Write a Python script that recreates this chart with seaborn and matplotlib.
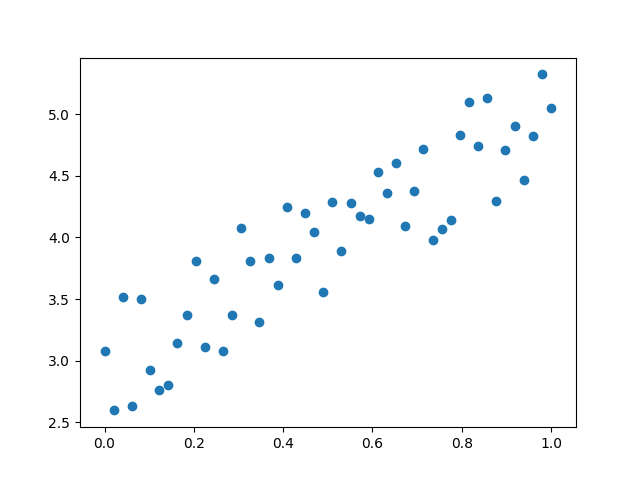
import numpy as np
import matplotlib
matplotlib.use("Agg")
import matplotlib.pyplot as plt
import seaborn as sns

# x values: 50 evenly spaced points from 0 to 1
x_vals = np.linspace(0, 1, 50)

# y values
y_vals = [
    3.078, 2.596, 3.519, 2.628, 3.497, 2.922, 2.759, 2.802, 3.143, 3.372,
    3.813, 3.113, 3.666, 3.078, 3.372, 4.074, 3.813, 3.314, 3.837, 3.617,
    4.246, 3.837, 4.197, 4.042, 3.559, 4.287, 3.889, 4.279, 4.172, 4.148,
    4.532, 4.360, 4.605, 4.093, 4.377, 4.722, 3.976, 4.066, 4.140, 4.828,
    5.096, 4.744, 5.136, 4.295, 4.711, 4.908, 4.469, 4.826, 5.324, 5.055,
]

fig, ax = plt.subplots(figsize=(6.4, 4.8), dpi=100)
sns.scatterplot(x=x_vals, y=y_vals, ax=ax, s=36, color="#1f77b4",
                edgecolor="#1f77b4", linewidth=1)
ax.set_xlim(-0.055, 1.056)
plt.savefig("out.png")
